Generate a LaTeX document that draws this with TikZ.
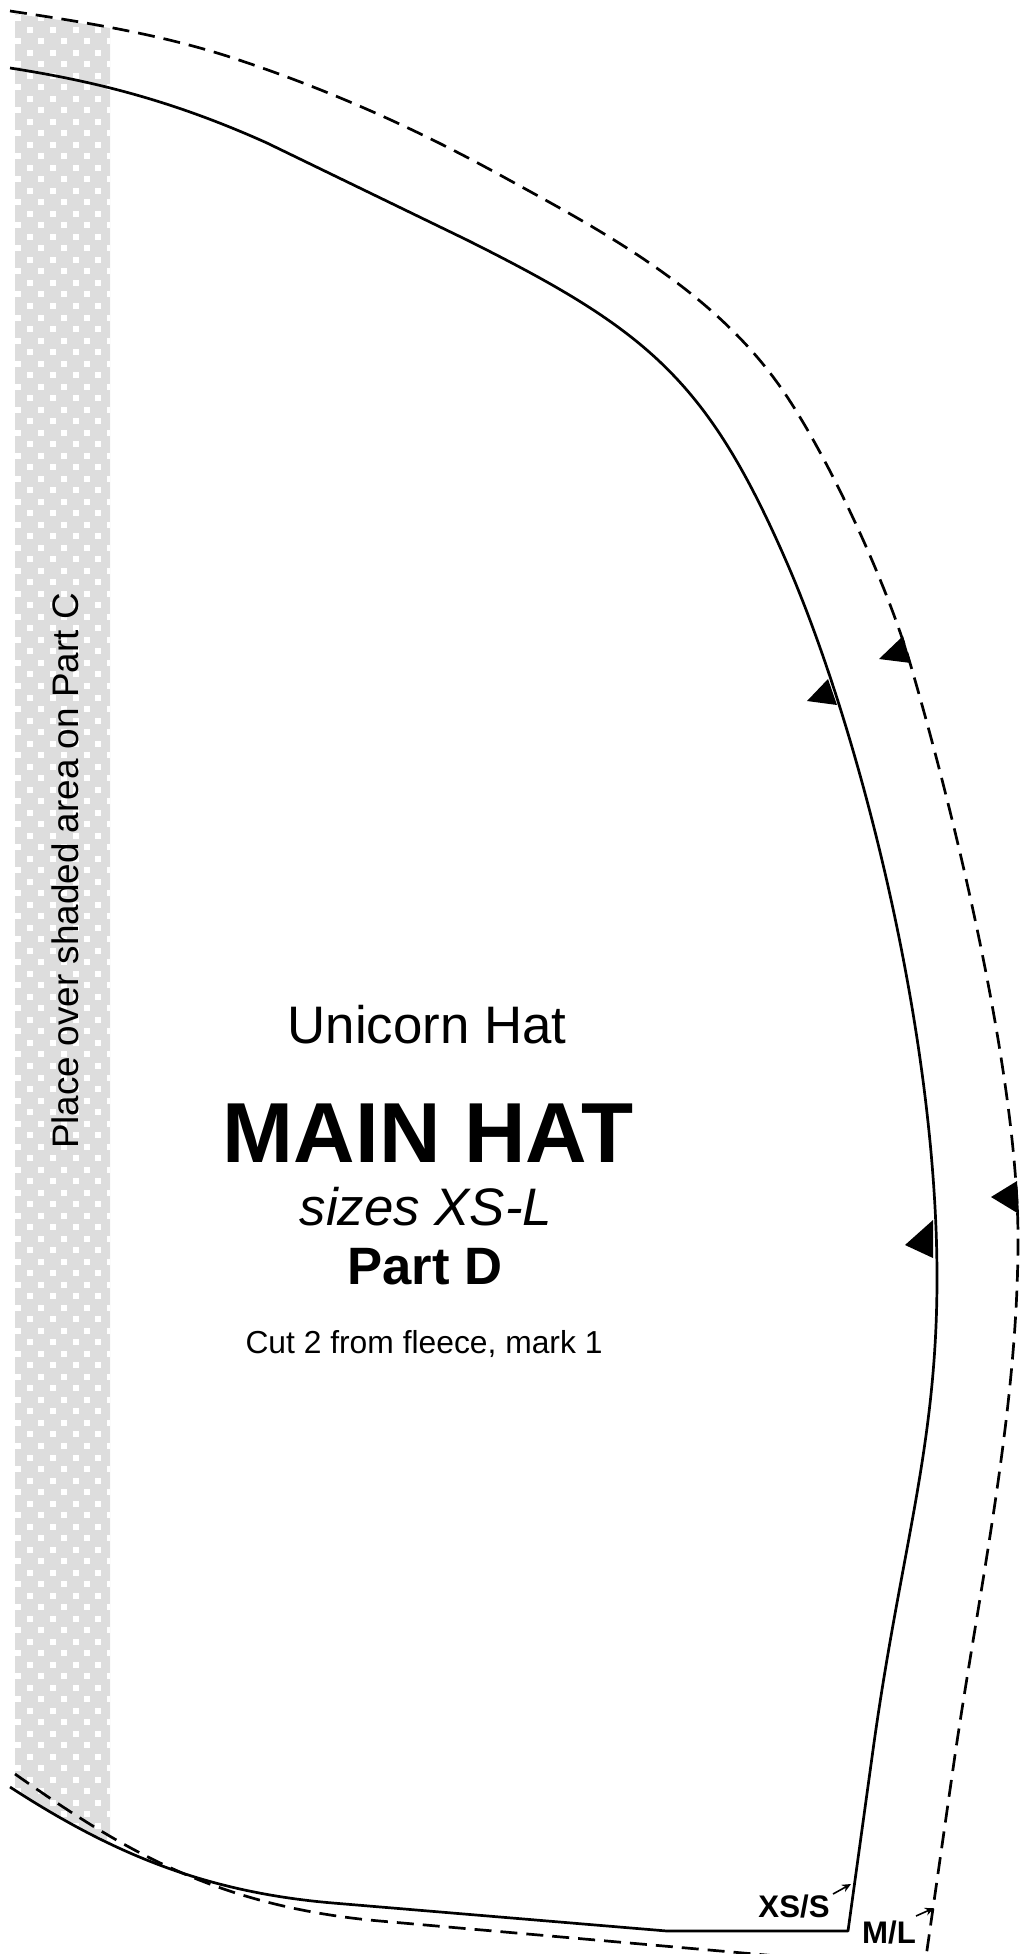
\documentclass[tikz,border=0pt]{standalone}
\usepackage{fontspec}
\setmainfont{Liberation Sans}
\usetikzlibrary{arrows.meta}
\definecolor{stripgray}{RGB}{221,221,221}
\begin{document}
\begin{tikzpicture}[x=0.5pt,y=-0.5pt,
  cutline/.style={line width=1.35pt, line join=round},
  seamline/.style={line width=1.35pt, dash pattern=on 8.5pt off 4.5pt},
  notch/.style={fill=black},
  lbl/.style={inner sep=0pt, anchor=base},
  sizearrow/.style={-{Stealth[length=4.5pt,width=4pt]}, line width=0.8pt}]
\useasboundingbox (0,0) rectangle (1020,1954);
\clip (0,0) rectangle (1020,1954);

% shaded strip
\begin{scope}
\clip (15,14) -- (60,20) -- (110,28) -- (110,1842) -- (60,1818) -- (15,1790) -- cycle;
\fill[stripgray] (0,0) rectangle (120,1954);
\foreach \j in {-14,...,66} {
  \foreach \m in {-1,...,4} {
    \fill[white] ({29.6+22.95*\m-3},{306+23.03*\j-3}) rectangle ++(6,6);
    \fill[white] ({17.8+22.95*\m-3},{317.5+23.03*\j-3}) rectangle ++(6,6);
  }
}
\end{scope}

% solid cutting line
\draw[cutline] (10,68) .. controls (100,82) and (177,102.5) .. (267,143)
  -- (467,240) .. controls (647,330) and (707,379) .. (787,563)
  .. controls (857,724) and (937,1028) .. (937,1278)
  .. controls (937,1448) and (900.6,1550) .. (873,1750)
  -- (848,1931) -- (667,1931) -- (333,1903)
  .. controls (203,1892) and (110,1852) .. (10,1787);

% dashed seam line
\draw[seamline] (10,11) .. controls (85,22.3) and (160,34) .. (233,58)
  .. controls (323,87.7) and (410,125.5) .. (500,175)
  .. controls (600,230) and (709,287) .. (779,385)
  .. controls (824,448) and (885,578) .. (910,663)
  .. controls (950,799) and (1018,1069) .. (1018,1239)
  .. controls (1018,1409) and (980,1585) .. (955,1755)
  -- (922,1985);
\draw[seamline] (15,1774) .. controls (115,1844) and (210,1906) .. (380,1921)
  -- (800,1958);

% notches
\fill[notch] (807,701) -- (828,679) -- (837,705) -- cycle;
\fill[notch] (879,659) -- (903,636) -- (911,663) -- cycle;
\fill[notch] (905,1245) -- (933,1220) -- (933,1258) -- cycle;
\fill[notch] (991,1197) -- (1017,1181) -- (1019,1214) -- cycle;

% texts
\node[lbl, rotate=90] (place) at (78,871) {\fontsize{18.45}{20}\selectfont Place over shaded area on Part C};
\node[lbl] (unicorn) at (427,1043) {\fontsize{26.4}{30}\selectfont Unicorn Hat};
\node[lbl] (mainhat) at (428,1162) {\fontsize{42.6}{46}\selectfont\bfseries MAIN HAT};
\node[lbl] (sizes) at (426,1225) {\fontsize{26.4}{30}\selectfont\itshape sizes XS-L};
\node[lbl] (partd) at (425,1284) {\fontsize{26.3}{30}\selectfont\bfseries Part D};
\node[lbl] (cut) at (424,1353) {\fontsize{15.9}{18}\selectfont Cut 2 from fleece, mark 1};

\node[lbl] (xss) at (794,1917) {\fontsize{15.6}{18}\selectfont\bfseries XS/S};
\node[lbl] (ml) at (889,1943) {\fontsize{15.6}{18}\selectfont\bfseries M/L};
\coordinate (xsA) at (833,1894);
\coordinate (xsB) at (851,1884);
\coordinate (mlA) at (916,1916);
\coordinate (mlB) at (934,1908);
\draw[sizearrow] (xsA) -- (xsB);
\draw[sizearrow] (mlA) -- (mlB);
\end{tikzpicture}
\end{document}
